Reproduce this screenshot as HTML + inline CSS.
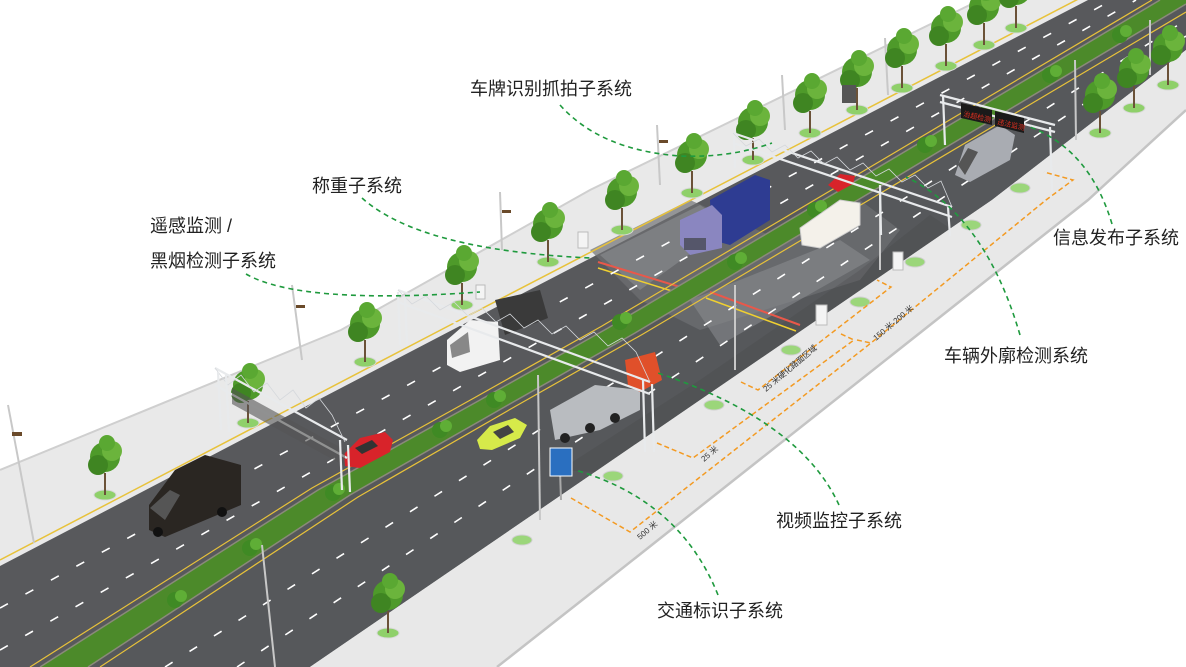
<!DOCTYPE html>
<html><head><meta charset="utf-8"><style>
html,body{margin:0;padding:0;background:#fff;}
svg{display:block;}
.lb{font-family:"Liberation Sans","Noto Sans CJK SC",sans-serif;font-size:18px;fill:#222;}
.sm{font-family:"Liberation Sans","Noto Sans CJK SC",sans-serif;font-size:8px;fill:#333;}
.gd{fill:none;stroke:#1f9a3e;stroke-width:1.6;stroke-dasharray:5 4;}
.od{fill:none;stroke:#f39a22;stroke-width:1.5;stroke-dasharray:5 3;}
.ln{stroke:#fff;stroke-width:1.6;stroke-dasharray:9 20;fill:none;}
.tr{stroke:#e8eaec;stroke-width:2.2;fill:none;}
.tr2{stroke:#d5d8dc;stroke-width:0.8;fill:none;}
</style></head><body>
<svg width="1186" height="667" viewBox="0 0 1186 667" xmlns="http://www.w3.org/2000/svg">
<defs>
<g id="tree"><ellipse cx="0" cy="0" rx="11" ry="5" fill="#8fd06a" stroke="#d8d8d8" stroke-width="1"/><line x1="0" y1="0" x2="0" y2="-22" stroke="#6b5238" stroke-width="2"/><circle cx="0" cy="-38" r="15" fill="#4e9a2a"/><circle cx="-7" cy="-30" r="10" fill="#3f8522"/><circle cx="7" cy="-44" r="10" fill="#6bb43c"/><circle cx="2" cy="-52" r="8" fill="#5aa832"/></g>
<g id="bush"><circle cx="0" cy="0" r="8" fill="#3f8a24"/><circle cx="6" cy="-4" r="6" fill="#5fae36"/></g>
<g id="disc"><ellipse cx="0" cy="0" rx="10" ry="5" fill="#9bd67a" stroke="#d0d0d0"/></g>
</defs>

<polygon points="0,470 341,330 590,190 980,0 1088,0 456,330 0,568" fill="#e9e9e9"/>
<polyline points="0,470 341,330 590,190 980,0" fill="none" stroke="#cfcfcf" stroke-width="2"/>
<polygon points="0,566 456,328 1088,0 1162,0 608,328 480,400 318,490 40,667 0,667" fill="#58595c"/>
<polygon points="88,667 350,495 508,405 635,333 1186,2 1186,50 992,200 595,472 310,667" fill="#56585b"/>
<polygon points="590,250 690,200 780,240 860,200 900,230 860,280 700,330 640,300" fill="#6f7174" opacity="0.7"/>
<polygon points="560,470 700,380 860,270 930,215 960,235 880,300 760,390 640,460 595,472" fill="#444" opacity="0.25"/>
<polygon points="600,255 700,205 730,225 640,290" fill="#8c8e91" opacity="0.6"/>
<polygon points="690,300 840,240 870,260 720,345" fill="#8c8e91" opacity="0.55"/>
<line x1="598" y1="262" x2="690" y2="290" stroke="#e8584a" stroke-width="2"/>
<line x1="598" y1="268" x2="688" y2="296" stroke="#f0d030" stroke-width="1.5"/>
<line x1="710" y1="292" x2="800" y2="325" stroke="#e8584a" stroke-width="2"/>
<line x1="706" y1="298" x2="796" y2="331" stroke="#f0d030" stroke-width="1.5"/>
<polygon points="310,667 595,472 992,200 1186,50 1186,110 1088,200 586,597 497,667" fill="#e8e8e8"/>
<polyline points="497,667 586,597 1088,200 1186,110" fill="none" stroke="#c4c4c4" stroke-width="2.5"/>
<polygon points="40,667 318,490 480,400 608,328 1160,0 1186,0 1186,4 635,333 508,405 350,495 88,667" fill="#4c8a2a"/>
<polyline points="40,667 318,490 480,400 608,328 1160,0" fill="none" stroke="#8a8a7a" stroke-width="1.5"/>
<polyline points="88,667 350,495 508,405 635,333 1186,4" fill="none" stroke="#8a8a7a" stroke-width="1.5"/>
<polyline points="0,560 456,322 1088,-6" fill="none" stroke="#e8c23a" stroke-width="1.5"/>
<polyline points="30,667 312,488 474,398 602,326 1152,0" fill="none" stroke="#e8c23a" stroke-width="1.2"/>
<polyline points="100,667 358,497 516,406 643,334 1186,12" fill="none" stroke="#e8c23a" stroke-width="1.2"/>
<line class="ln" x1="0" y1="608" x2="1112" y2="0"/>
<line class="ln" x1="0" y1="650" x2="1136" y2="0"/>
<line class="ln" x1="165" y1="667" x2="1186" y2="20"/>
<line class="ln" x1="237" y1="667" x2="1186" y2="36"/>
<use href="#bush" x="333" y="493"/><use href="#bush" x="440" y="430"/><use href="#bush" x="494" y="400"/>
<use href="#bush" x="250" y="548"/><use href="#bush" x="175" y="600"/><use href="#bush" x="620" y="322"/>
<use href="#bush" x="735" y="262"/><use href="#bush" x="815" y="210"/><use href="#bush" x="925" y="145"/>
<use href="#bush" x="1050" y="75"/><use href="#bush" x="1120" y="35"/>
<use href="#disc" x="522" y="540"/><use href="#disc" x="613" y="476"/><use href="#disc" x="714" y="405"/>
<use href="#disc" x="791" y="350"/><use href="#disc" x="860" y="302"/><use href="#disc" x="915" y="262"/><use href="#disc" x="971" y="225"/><use href="#disc" x="1020" y="188"/>
<g stroke="#c8c8c8" stroke-width="2">
<line x1="8" y1="405" x2="34" y2="543"/><line x1="292" y1="285" x2="302" y2="360"/>
<line x1="500" y1="192" x2="502" y2="250"/><line x1="657" y1="125" x2="660" y2="185"/>
<line x1="782" y1="75" x2="785" y2="130"/><line x1="885" y1="38" x2="888" y2="95"/>
<line x1="262" y1="545" x2="275" y2="667"/><line x1="538" y1="375" x2="540" y2="520"/>
<line x1="735" y1="285" x2="735" y2="370"/><line x1="880" y1="195" x2="880" y2="270"/>
<line x1="1075" y1="60" x2="1076" y2="140"/><line x1="1150" y1="20" x2="1150" y2="75"/>
</g>
<g fill="#6a4a2a"><rect x="12" y="432" width="10" height="4"/><rect x="296" y="305" width="9" height="3"/><rect x="502" y="210" width="9" height="3"/><rect x="659" y="140" width="9" height="3"/></g>
<use href="#tree" x="105" y="495"/><use href="#tree" x="248" y="423"/><use href="#tree" x="365" y="362"/>
<use href="#tree" x="462" y="305"/><use href="#tree" x="548" y="262"/><use href="#tree" x="622" y="230"/>
<use href="#tree" x="692" y="193"/><use href="#tree" x="753" y="160"/><use href="#tree" x="810" y="133"/>
<use href="#tree" x="857" y="110"/><use href="#tree" x="902" y="88"/><use href="#tree" x="946" y="66"/>
<use href="#tree" x="984" y="45"/><use href="#tree" x="1016" y="28"/>
<use href="#tree" x="388" y="633"/><use href="#tree" x="1100" y="133"/><use href="#tree" x="1134" y="108"/><use href="#tree" x="1168" y="85"/>
<rect x="842" y="85" width="14" height="18" fill="#555"/>
<g fill="#f4f4f4" stroke="#bbb"><rect x="578" y="232" width="10" height="16"/><rect x="893" y="252" width="10" height="18"/><rect x="816" y="305" width="11" height="20"/><rect x="476" y="285" width="9" height="14"/><rect x="718" y="212" width="8" height="12"/></g>

<polygon points="149,505 175,470 205,455 241,465 241,505 165,537 149,530" fill="#2a2622"/>
<polygon points="150,508 170,490 180,495 165,520" fill="#555"/>
<circle cx="158" cy="532" r="5" fill="#111"/><circle cx="222" cy="512" r="5" fill="#111"/>
<polygon points="343,455 360,438 385,432 393,440 390,452 360,468 345,466" fill="#d8232a"/>
<polygon points="355,448 372,440 378,446 362,454" fill="#333"/>
<polygon points="477,440 490,426 515,418 527,425 520,438 492,450 480,449" fill="#d6ea4a"/>
<polygon points="493,432 508,425 514,432 500,439" fill="#444"/>
<polygon points="495,300 540,290 548,318 505,335" fill="#3a3a3a"/>
<polygon points="447,340 470,320 498,322 500,360 460,372 447,365" fill="#f2f2f2"/>
<polygon points="450,345 468,332 470,352 452,358" fill="#888"/>
<polygon points="550,410 595,385 640,390 640,410 600,430 555,440" fill="#b9bcc0"/>
<polygon points="625,360 655,352 662,380 640,392 628,385" fill="#e0502a"/>
<circle cx="565" cy="438" r="5" fill="#222"/><circle cx="590" cy="428" r="5" fill="#222"/><circle cx="615" cy="418" r="5" fill="#222"/>
<polygon points="710,200 755,175 770,180 770,220 730,245 712,240" fill="#2e3c92"/>
<polygon points="680,220 712,205 722,215 722,248 690,255 680,245" fill="#8a86c0"/>
<rect x="684" y="238" width="22" height="12" fill="#55566a"/>
<polygon points="828,185 840,174 855,176 853,184 838,192" fill="#d8232a"/>
<polygon points="800,228 840,200 860,203 860,225 820,248 802,245" fill="#f4f1ea" stroke="#ccc"/>
<polygon points="955,175 965,145 1000,125 1015,135 1010,160 970,182" fill="#a9acb2"/>
<polygon points="958,165 968,148 978,152 965,175" fill="#555"/>

<g>
<line class="tr" x1="215" y1="368" x2="347" y2="440"/><line class="tr" x1="215" y1="385" x2="347" y2="458"/>
<polyline class="tr2" points="215,368 228,385 241,375 254,392 267,383 280,400 293,390 306,408 319,398 332,415 345,442"/>
<polygon points="232,388 345,450 345,466 232,404" fill="#555" opacity="0.6"/>
<line class="tr" x1="218" y1="372" x2="221" y2="430"/><line class="tr" x1="226" y1="375" x2="229" y2="432"/>
<line class="tr" x1="340" y1="440" x2="342" y2="490"/><line class="tr" x1="348" y1="445" x2="350" y2="492"/>
<line class="tr" x1="398" y1="290" x2="650" y2="382"/><line class="tr" x1="398" y1="302" x2="650" y2="394"/>
<polyline class="tr2" points="398,290 412,304 426,296 440,310 454,302 468,316 482,308 496,322 510,314 524,328 538,320 552,334 566,326 580,340 594,332 608,346 622,338 636,352 650,382"/>
<line class="tr" x1="398" y1="292" x2="400" y2="345"/><line class="tr" x1="405" y1="295" x2="407" y2="346"/>
<line class="tr" x1="643" y1="380" x2="645" y2="452"/><line class="tr" x1="652" y1="384" x2="654" y2="452"/>
<line class="tr" x1="733" y1="133" x2="952" y2="207"/><line class="tr" x1="733" y1="143" x2="952" y2="217"/>
<polyline class="tr2" points="733,133 746,146 759,139 772,152 785,145 798,158 811,151 824,164 837,157 850,170 863,163 876,176 889,169 902,182 915,175 928,188 941,181 952,207"/>
<line class="tr" x1="734" y1="136" x2="735" y2="168"/><line class="tr" x1="948" y1="207" x2="950" y2="236"/>
<line class="tr" x1="880" y1="185" x2="881" y2="235"/>
<line class="tr" x1="940" y1="95" x2="1055" y2="125"/><line class="tr" x1="940" y1="102" x2="1055" y2="132"/>
<line class="tr" x1="943" y1="95" x2="945" y2="145"/><line class="tr" x1="1050" y1="127" x2="1052" y2="192"/>
</g>
<polygon points="961,103 992,110 992,125 961,118" fill="#1a1a1a"/>
<polygon points="995,111 1024,118 1024,133 995,126" fill="#1a1a1a"/>
<text x="963" y="116" font-family="Liberation Sans,Noto Sans CJK SC,sans-serif" font-size="7" fill="#e03020" transform="rotate(13 963 116)">治超检测</text>
<text x="997" y="124" font-family="Liberation Sans,Noto Sans CJK SC,sans-serif" font-size="7" fill="#e03020" transform="rotate(13 997 124)">违法监测</text>

<line x1="560" y1="470" x2="561" y2="500" stroke="#aaa" stroke-width="2"/>
<rect x="550" y="448" width="22" height="28" fill="#2a6fc0" stroke="#fff" stroke-width="1"/>

<polyline class="od" points="741,382 758,390 891,287 877,280"/>
<polyline class="od" points="657,443 693,458 854,340 839,333"/>
<polyline class="od" points="571,498 630,532 871,343 1046,200 1073,180 1044,172"/>
<polyline class="od" points="857,340 871,343"/>
<text class="sm" x="640" y="540" transform="rotate(-40 640 540)">500 米</text>
<text class="sm" x="704" y="462" transform="rotate(-40 704 462)">25 米</text>
<text class="sm" x="766" y="392" transform="rotate(-40 766 392)">25 米硬化路面区域</text>
<text class="sm" x="876" y="341" transform="rotate(-40 876 341)">150 米-200 米</text>

<path class="gd" d="M560,105 Q600,150 680,156 Q730,158 772,143"/>
<path class="gd" d="M362,198 Q420,250 590,258"/>
<path class="gd" d="M246,274 Q300,305 480,292"/>
<path class="gd" d="M1112,224 Q1090,150 1030,127"/>
<path class="gd" d="M1020,335 Q985,215 906,177"/>
<path class="gd" d="M839,505 Q800,420 655,372"/>
<path class="gd" d="M718,595 Q680,500 575,470"/>

<text class="lb" x="470" y="95">车牌识别抓拍子系统</text>
<text class="lb" x="312" y="192">称重子系统</text>
<text class="lb" x="150" y="232">遥感监测 /</text>
<text class="lb" x="150" y="267">黑烟检测子系统</text>
<text class="lb" x="1053" y="244">信息发布子系统</text>
<text class="lb" x="944" y="362">车辆外廓检测系统</text>
<text class="lb" x="776" y="527">视频监控子系统</text>
<text class="lb" x="657" y="617">交通标识子系统</text>
</svg>
</body></html>
